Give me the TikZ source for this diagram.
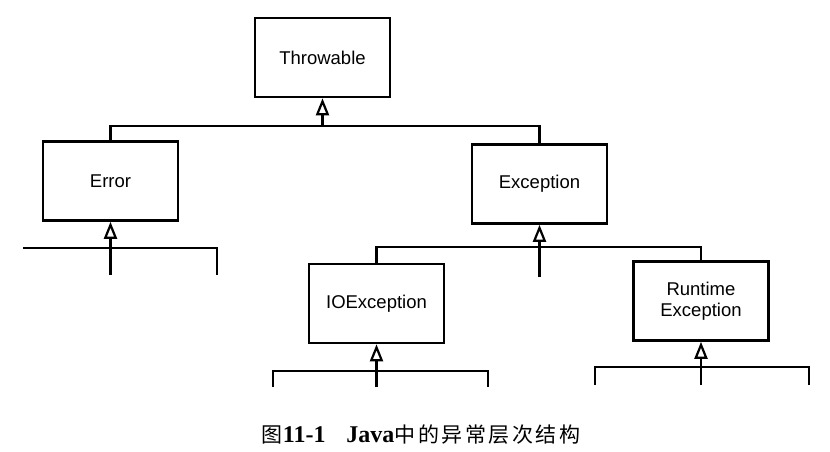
\documentclass[tikz,border=0pt]{standalone}
\usepackage{fontspec}
\setmainfont{Liberation Sans}
\newfontfamily\cjk[LetterSpace=12]{Noto Sans CJK SC}
\newfontfamily\capserif{Liberation Serif}
\usetikzlibrary{arrows.meta}
\begin{document}
\begin{tikzpicture}[x=1pt,y=-1pt,
  cls/.style={draw, line width=2.6pt, minimum width=135pt, minimum height=79pt, inner sep=0pt,
    font=\fontsize{18.5}{20.5}\selectfont, align=center},
  link/.style={line width=2.6pt},
  gen/.style={line width=2.6pt, -{Triangle[open, width=13pt, length=17pt, line width=2.2pt]}}]
\useasboundingbox (0,0) rectangle (830,452);
\node[cls] (t)  at (322.5,57.5) {Throwable};
\node[cls] (e)  at (110.5,181)  {Error};
\node[cls] (x)  at (539.5,184)  {Exception};
\node[cls] (io) at (376.5,303.5) {IOException};
\node[cls] (rt) at (701,301)    {Runtime\\Exception};
% Throwable
\coordinate (tb) at (322.5,126);
\draw[gen] (tb) -- (t.south);
\draw[link] (e.north) |- (tb) -| (x.north);
% Error children
\coordinate (eb) at (110.5,275);
\coordinate (el) at (23,248);
\coordinate (er) at (217,275);
\draw[link] (el) -| (er);
\draw[gen] (eb) -- (e.south);
% Exception children
\coordinate (xb) at (539.5,277);
\coordinate (xj) at (539.5,247);
\draw[link] (io.north) |- (xj) -| (rt.north);
\draw[gen] (xb) -- (x.south);
% IOException children
\coordinate (iol) at (273,387);
\coordinate (ior) at (488,387);
\coordinate (ioj) at (376.5,371);
\coordinate (iob) at (376.5,387);
\draw[link] (iol) |- (ioj) -| (ior);
\draw[gen] (iob) -- (io.south);
% RuntimeException children
\coordinate (rtl) at (595,385);
\coordinate (rtr) at (809,385);
\coordinate (rtj) at (701,367);
\coordinate (rtb) at (701,385);
\draw[link] (rtl) |- (rtj) -| (rtr);
\draw[gen] (rtb) -- (rt.south);
% caption
\node[inner sep=0pt] (cap) at (421,435) {{\cjk\fontsize{21}{21}\selectfont 图}{\capserif\fontsize{24}{24}\selectfont\bfseries 11-1}\hspace{21pt}{\capserif\fontsize{24}{24}\selectfont\bfseries Java}{\cjk\fontsize{21}{21}\selectfont 中的异常层次结构}};
\end{tikzpicture}
\end{document}
